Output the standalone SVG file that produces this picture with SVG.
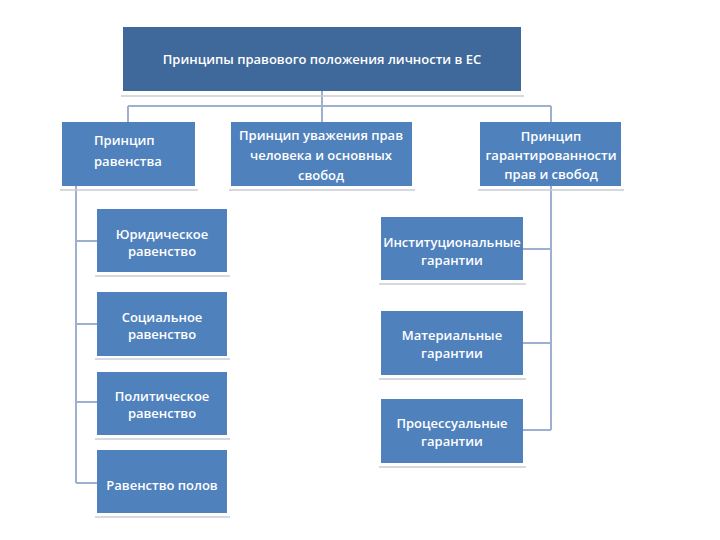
<svg xmlns="http://www.w3.org/2000/svg" width="720" height="540" viewBox="0 0 720 540">
<style>
.box{fill:#4F81BD}
.top{fill:#3F689B}
.sh{stroke:#C8CCD2;stroke-width:1.5;fill:none}
.t{font-family:"Open Sans","Liberation Sans",sans-serif;font-size:13px;fill:#FFFFFF;font-weight:600}
.c{text-anchor:middle}
.ln{stroke:#9DB0D0;stroke-width:2;fill:none}
</style>
<rect width="720" height="540" fill="#FFFFFF"/>
<g id="connectors">
<path class="ln" d="M322,91 V106 M128,106 H551 M128,106 V122 M322,106 V122 M551,106 V122"/>
<path class="ln" d="M76,186 V483 M76,241 H97 M76,324 H97 M76,402 H97 M76,483 H97"/>
<path class="ln" d="M551,186 V430 M523,249 H551 M523,343 H551 M523,430 H551"/>
</g>
<g id="root">
<rect class="top" x="123" y="27" width="398" height="64"/>
<line class="sh" x1="121" y1="96" x2="524" y2="96"/>
<text class="t c" x="322" y="64">Принципы правового положения личности в ЕС</text>
</g>
<g id="n-ravenstvo">
<rect class="box" x="62" y="122" width="133" height="64"/>
<line class="sh" x1="60" y1="190" x2="198" y2="190"/>
<text class="t" x="94" y="145">Принцип</text>
<text class="t" x="94" y="166">равенства</text>
</g>
<g id="n-uvazhenie">
<rect class="box" x="231" y="122" width="181" height="64"/>
<line class="sh" x1="229" y1="190" x2="415" y2="190"/>
<text class="t c" x="321" y="140">Принцип уважения прав</text>
<text class="t c" x="321" y="160">человека и основных</text>
<text class="t c" x="321" y="180">свобод</text>
</g>
<g id="n-garant">
<rect class="box" x="480" y="122" width="141" height="64"/>
<line class="sh" x1="478" y1="190" x2="624" y2="190"/>
<text class="t c" x="551" y="141">Принцип</text>
<text class="t c" x="551" y="160">гарантированности</text>
<text class="t c" x="551" y="179">прав и свобод</text>
</g>
<g id="n-jur">
<rect class="box" x="97" y="209" width="130" height="63"/>
<line class="sh" x1="95" y1="276" x2="230" y2="276"/>
<text class="t c" x="162" y="239">Юридическое</text>
<text class="t c" x="162" y="256">равенство</text>
</g>
<g id="n-soc">
<rect class="box" x="97" y="292" width="130" height="64"/>
<line class="sh" x1="95" y1="359" x2="230" y2="359"/>
<text class="t c" x="162" y="322">Социальное</text>
<text class="t c" x="162" y="339">равенство</text>
</g>
<g id="n-pol">
<rect class="box" x="97" y="372" width="130" height="63"/>
<line class="sh" x1="95" y1="439" x2="230" y2="439"/>
<text class="t c" x="162" y="401">Политическое</text>
<text class="t c" x="162" y="418">равенство</text>
</g>
<g id="n-pola">
<rect class="box" x="97" y="450" width="130" height="63"/>
<line class="sh" x1="95" y1="517" x2="230" y2="517"/>
<text class="t c" x="162" y="490">Равенство полов</text>
</g>
<g id="n-inst">
<rect class="box" x="381" y="217" width="142" height="63"/>
<line class="sh" x1="379" y1="284" x2="526" y2="284"/>
<text class="t c" x="452" y="247">Институциональные</text>
<text class="t c" x="452" y="265">гарантии</text>
</g>
<g id="n-mat">
<rect class="box" x="381" y="311" width="142" height="64"/>
<line class="sh" x1="379" y1="379" x2="526" y2="379"/>
<text class="t c" x="452" y="340">Материальные</text>
<text class="t c" x="452" y="358">гарантии</text>
</g>
<g id="n-proc">
<rect class="box" x="381" y="399" width="142" height="64"/>
<line class="sh" x1="379" y1="467" x2="526" y2="467"/>
<text class="t c" x="452" y="428">Процессуальные</text>
<text class="t c" x="452" y="446">гарантии</text>
</g>
</svg>
